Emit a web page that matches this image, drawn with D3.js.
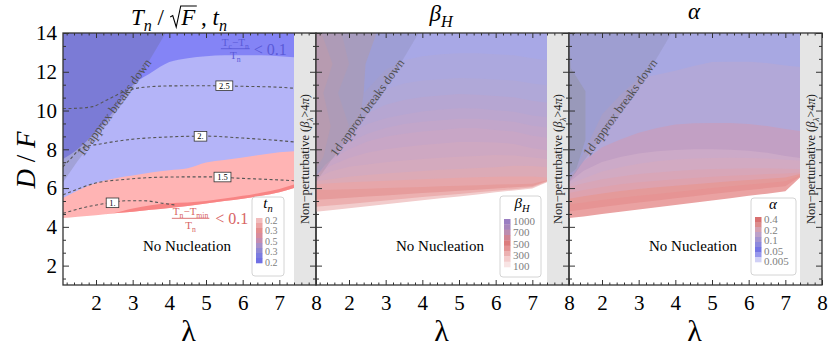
<!DOCTYPE html>
<html>
<head>
<meta charset="utf-8">
<script src="https://cdn.jsdelivr.net/npm/d3@7"></script>
<style>
  body { margin: 0; background: #fff; }
  svg { display: block; }
</style>
</head>
<body>
<div id="chart"></div>
<script>
// lambda grid that all filled boundaries are sampled on
const lam = [1.1, 1.5, 2, 2.5, 3, 3.5, 4, 4.5, 5, 5.5, 6, 6.5, 7, 7.4];

// Panel 1: Tn/sqrt(F), t_n  (D/F of each region boundary)
const tnBottom  = [4.45, 4.52, 4.6, 4.7, 4.78, 4.88, 4.97, 5.08, 5.2, 5.33, 5.45, 5.6, 5.78, 6.0];
const tnRedTop  = [4.45, 4.52, 4.6, 4.72, 4.95, 5.12, 5.22, 5.26, 5.33, 5.46, 5.6, 5.76, 5.95, 6.18];
const tnPinkTop = [5.49, 5.88, 6.26, 6.5, 6.65, 6.8, 6.92, 7.02, 7.32, 7.45, 7.58, 7.72, 7.85, 7.9];
const tnBlueTop = [7.5, 8.0, 8.9, 10.0, 11.3, 11.95, 12.5, 12.7, 12.8, 12.85, 12.85, 12.85, 12.8, 12.75];

// dashed Tn/sqrt(F) contours
const tnLevels = ["1.", "1.5", "2.", "2.5"];
const tnLine1  = [[1.1, 4.7], [1.8, 5.05], [2.3, 5.22], [2.9, 5.35], [3.3, 5.35], [3.8, 5.22], [4.2, 5.12]];
const tnLine15 = [[1.1, 5.65], [1.5, 5.95], [1.95, 6.24], [2.8, 6.45], [4, 6.57], [5, 6.58], [6, 6.5], [7, 6.42], [7.4, 6.38]];
const tnLine2  = [[1.1, 7.1], [1.3, 7.5], [1.6, 8.05], [2.2, 8.3], [2.9, 8.5], [4, 8.64], [5, 8.68], [6, 8.58], [7, 8.45], [7.4, 8.38]];
const tnLine25 = [[1.1, 10.1], [1.5, 10.12], [1.9, 10.2], [2.3, 10.55], [2.8, 11.0], [3.3, 11.2], [4, 11.27], [5, 11.28], [6, 11.25], [7, 11.2], [7.4, 11.15]];
const tnLabelAt = [[2.45, 5.24], [5.45, 6.57], [4.85, 8.67], [5.5, 11.28]];

// Panel 2: beta_H contour boundaries (bottom to top)
const bhBottom = [4.78, 4.86, 4.96, 5.06, 5.17, 5.27, 5.37, 5.47, 5.57, 5.67, 5.78, 5.88, 5.98, 6.3];
const bh1  = [5.04, 5.1, 5.18, 5.27, 5.36, 5.45, 5.54, 5.62, 5.7, 5.78, 5.86, 5.94, 6.04, 6.33];
const bh2  = [5.4, 5.44, 5.5, 5.56, 5.62, 5.68, 5.74, 5.8, 5.86, 5.92, 5.98, 6.04, 6.1, 6.36];
const bh3  = [5.9, 5.92, 5.94, 5.97, 6.0, 6.03, 6.06, 6.09, 6.12, 6.15, 6.18, 6.2, 6.22, 6.4];
const bh4  = [6.2, 6.25, 6.3, 6.34, 6.38, 6.42, 6.46, 6.5, 6.53, 6.56, 6.58, 6.6, 6.6, 6.55];
const bh5  = [6.35, 6.45, 6.58, 6.68, 6.75, 6.82, 6.88, 6.94, 6.99, 7.03, 7.08, 7.15, 7.14, 7.08];
const bh6  = [6.5, 6.85, 7.1, 7.22, 7.33, 7.42, 7.5, 7.56, 7.62, 7.66, 7.7, 7.68, 7.58, 7.5];
const bh7  = [6.7, 7.15, 7.55, 7.82, 8.0, 8.12, 8.22, 8.3, 8.38, 8.38, 8.35, 8.28, 8.05, 7.95];
const bh8  = [6.9, 7.45, 8.0, 8.4, 8.65, 8.8, 8.92, 9.0, 9.08, 9.08, 9.0, 8.92, 8.7, 8.6];
const bh9  = [7.1, 7.75, 8.35, 8.8, 9.1, 9.3, 9.42, 9.5, 9.58, 9.58, 9.5, 9.42, 9.22, 9.12];
const bh10 = [7.3, 8.05, 8.75, 9.3, 9.6, 9.8, 9.95, 10.05, 10.12, 10.1, 10.02, 9.94, 9.75, 9.65];
const bh11 = [7.5, 8.35, 9.15, 9.85, 10.3, 10.55, 10.7, 10.78, 10.85, 10.82, 10.75, 10.68, 10.5, 10.4];
const bh12 = [7.8, 8.65, 9.55, 10.45, 11.1, 11.4, 11.55, 11.62, 11.68, 11.65, 11.6, 11.55, 11.4, 11.3];
const bh13 = [8.1, 9.0, 10.0, 11.1, 12.1, 12.6, 12.8, 12.9, 12.95, 12.95, 12.9, 12.85, 12.7, 12.6];
// jagged contours in the top-left corner of panel 2, [lambda, D/F]
const bhCornerC = [[1.1, 14], [2.75, 14], [2.45, 12.4], [2.4, 10.9], [2.3, 9.6], [1.1, 6.6]];
const bhCornerB = [[1.1, 14], [1.8, 14], [2.0, 12.4], [1.7, 10.9], [2.0, 9.2], [1.6, 7.6], [1.1, 6.8]];
const bhCornerA = [[1.1, 14], [1.25, 14], [1.55, 12.4], [1.3, 10.9], [1.5, 9.2], [1.3, 7.6], [1.1, 7.0]];

// Panel 3: alpha contour boundaries (bottom to top)
const alBottom = [4.45, 4.54, 4.66, 4.78, 4.89, 5.01, 5.13, 5.24, 5.36, 5.48, 5.6, 5.71, 5.83, 6.55];
const al1 = [4.8, 4.9, 5.02, 5.14, 5.25, 5.36, 5.47, 5.58, 5.69, 5.8, 5.9, 6.0, 6.1, 6.6];
const al2 = [5.15, 5.25, 5.38, 5.5, 5.6, 5.7, 5.8, 5.9, 6.0, 6.1, 6.18, 6.26, 6.35, 6.65];
const al3 = [5.45, 5.58, 5.72, 5.85, 5.95, 6.04, 6.12, 6.2, 6.28, 6.35, 6.42, 6.48, 6.55, 6.72];
const al4 = [5.75, 5.9, 6.05, 6.2, 6.3, 6.38, 6.45, 6.52, 6.58, 6.63, 6.68, 6.72, 6.75, 6.8];
const al5 = [6.05, 6.25, 6.45, 6.6, 6.72, 6.8, 6.88, 6.94, 6.98, 7.0, 7.02, 7.02, 7.0, 6.98];
const al6 = [6.2, 6.5, 6.85, 7.08, 7.25, 7.38, 7.47, 7.52, 7.55, 7.56, 7.55, 7.52, 7.46, 7.42];
const al7 = [6.3, 6.9, 7.35, 7.6, 7.78, 7.9, 7.96, 8.0, 8.0, 7.98, 7.92, 7.82, 7.65, 7.55];
const al8 = [6.4, 7.4, 8.1, 8.5, 8.85, 9.1, 9.28, 9.34, 9.36, 9.36, 9.3, 9.2, 9.05, 8.95];
const al9 = [6.5, 7.8, 9.8, 10.8, 11.66, 11.85, 12.05, 12.3, 12.5, 12.52, 12.52, 12.45, 12.32, 12.25];
const alCornerA = [[1.1, 14], [1.15, 12.2], [1.55, 11.0], [1.55, 8.5], [1.3, 7.0], [1.1, 6.7]];

// "1d approx breaks down" boundary, and the non-perturbative edge
const breakdown = [[1.1, 6.3], [1.5, 7.4], [2, 8.6], [2.9, 10.8], [3.4, 12.4], [3.9, 14]];
const nonPertStart = 7.4;

// legends
const tnLegend = ["0.2", "0.3", "0.5", "0.3", "0.2"];
const bhLegend = ["1000", "700", "500", "300", "100"];
const alLegend = ["0.4", "0.2", "0.1", "0.05", "0.005"];

// ---- styles ----
const serif = "'Liberation Serif', 'Times New Roman', serif";
const tnColors = ["#ffb4b4", "#f88484", "#b4b4f8", "#8484f6"];
const bhColors = ["#f2cccc", "#ecb0b0", "#e69c9c", "#e6a6aa", "#dcaab6", "#d4aabe", "#cea8c2",
                  "#c8a6c6", "#c2a6ca", "#bca6ce", "#b6a6d2", "#b0a8d8", "#aca8de", "#a8a8e6"];
const bhCornerColors = ["#b2a6cc", "#baa4c4", "#c4a4bc"];
const alColors = ["#eaa2a2", "#e69494", "#e49a9a", "#dea2ae", "#d8a6b8", "#d2aac2",
                  "#ccaac8", "#c2a0c4", "#b2a8d8", "#a8a8e2"];
const tnLegendColors = ["#f2bcbc", "#eca4a4", "#e48e8e", "#d88c9c", "#c48cb0", "#a890c8", "#9088d4", "#7c7ce0", "#7070e4"];
const bhLegendColors = ["#9a7ec2", "#a886bc", "#bc8cb0", "#d08494", "#dc7c7c", "#e49494", "#ecb0b0", "#f4cccc", "#f8e4e4"];
const alLegendColors = ["#d87070", "#dc8c8c", "#d4a0b0", "#bca0c8", "#a494d0", "#8c88dc", "#7474e4", "#9898ec", "#d0d0f6"];

// ---- layout ----
const W = 830, H = 350;
const panelLeft = [63, 316, 569];
const panelW = 253, plotTop = 33, plotBottom = 285;

const svg = d3.select("#chart").append("svg")
    .attr("width", W).attr("height", H)
    .attr("font-family", serif);
const defs = svg.append("defs");

function makePanel(i) {
    const x0 = panelLeft[i];
    const x = d3.scaleLinear().domain([1.1, 8]).range([x0, x0 + panelW]);
    const y = d3.scaleLinear().domain([1, 14]).range([plotBottom, plotTop]);
    defs.append("clipPath").attr("id", "clip" + i)
        .append("rect").attr("x", x0).attr("y", plotTop)
        .attr("width", panelW).attr("height", plotBottom - plotTop);
    const g = svg.append("g");
    const plot = g.append("g").attr("clip-path", `url(#clip${i})`);
    return { x, y, g, plot, x0 };
}

// each band is filled from its lower boundary up to the top; later bands paint over
function drawBands(p, curves, colors, curve) {
    const area = d3.area()
        .x((d, i) => p.x(lam[i]))
        .y0(p.y(14))
        .y1(d => p.y(d))
        .curve(curve);
    curves.forEach((c, k) => {
        p.plot.append("path").datum(c).attr("d", area).attr("fill", colors[k]);
    });
}

function polygon(p, pts, fill) {
    const line = d3.line().x(d => p.x(d[0])).y(d => p.y(d[1]));
    p.plot.append("path").attr("d", line(pts) + "Z").attr("fill", fill);
}

function drawBreakdown(p, alpha) {
    polygon(p, breakdown.concat([[1.1, 14]]), `rgba(88,88,88,${alpha})`);
}

// rich text: parts are {t, it, sub}
function rich(sel, parts, size) {
    let off = 0;
    parts.forEach(q => {
        const shift = q.sub ? size * 0.28 : 0;
        const ts = sel.append("tspan").text(q.t);
        if (shift - off !== 0) ts.attr("dy", shift - off);
        off = shift;
        if (q.sub) ts.attr("font-size", size * 0.7);
        if (q.it) ts.attr("font-style", "italic");
    });
    return sel;
}

function drawStrip(p) {
    p.plot.append("rect")
        .attr("x", p.x(nonPertStart)).attr("y", plotTop)
        .attr("width", p.x(8) - p.x(nonPertStart)).attr("height", plotBottom - plotTop)
        .attr("fill", "#e5e5e5");
    const cx = (p.x(nonPertStart) + p.x(8)) / 2 + 4;
    const cy = (plotTop + plotBottom) / 2;
    const t = p.g.append("text")
        .attr("transform", `translate(${cx},${cy}) rotate(-90)`)
        .attr("text-anchor", "middle")
        .attr("font-size", 12.5)
        .attr("fill", "#222");
    rich(t, [{ t: "Non\u2212perturbative  (" }, { t: "\u03b2", it: true }, { t: "\u03bb", it: true, sub: true },
             { t: ">4" }, { t: "\u03c0", it: true }, { t: ")" }], 12.5);
}

function drawCommonText(p) {
    p.g.append("text")
        .attr("x", p.x(4.48)).attr("y", p.y(2.75))
        .attr("text-anchor", "middle").attr("font-size", 15)
        .text("No Nucleation");
    p.g.append("text")
        .attr("transform", `translate(${p.x(2.5)},${p.y(10.15)}) rotate(-54)`)
        .attr("text-anchor", "middle").attr("dominant-baseline", "central")
        .attr("font-size", 12.5).attr("fill", "#505050")
        .text("1d approx breaks down");
}

function drawFrame(p, showY) {
    const xMajor = d3.range(2, 9);
    const xMinor = d3.range(1.2, 8, 0.2).filter(v => Math.abs(v - Math.round(v)) > 1e-6);
    const yMajor = d3.range(2, 15, 2);
    const yMinor = d3.range(1 + 1 / 3, 14, 2 / 3).filter(v => Math.abs(v / 2 - Math.round(v / 2)) > 1e-6);
    const xr = p.x0 + panelW;

    const styleAxis = a => {
        a.select(".domain").remove();
        a.attr("font-family", serif).attr("font-size", 21);
        a.selectAll("line").attr("stroke", "#333");
        a.selectAll("text").attr("fill", "#000");
    };

    // bottom
    p.g.append("g").attr("transform", `translate(0,${plotBottom})`)
        .call(d3.axisBottom(p.x).tickValues(xMajor).tickSize(-5).tickSizeOuter(0).tickPadding(10).tickFormat(d3.format("d")))
        .call(styleAxis);
    p.g.append("g").attr("transform", `translate(0,${plotBottom})`)
        .call(d3.axisBottom(p.x).tickValues(xMinor).tickSize(-2.5).tickSizeOuter(0).tickFormat(""))
        .call(styleAxis);
    // top
    p.g.append("g").attr("transform", `translate(0,${plotTop})`)
        .call(d3.axisTop(p.x).tickValues(xMajor).tickSize(-5).tickSizeOuter(0).tickFormat(""))
        .call(styleAxis);
    p.g.append("g").attr("transform", `translate(0,${plotTop})`)
        .call(d3.axisTop(p.x).tickValues(xMinor).tickSize(-2.5).tickSizeOuter(0).tickFormat(""))
        .call(styleAxis);
    // left
    p.g.append("g").attr("transform", `translate(${p.x0},0)`)
        .call(d3.axisLeft(p.y).tickValues(yMajor).tickSize(-6).tickSizeOuter(0).tickPadding(6)
            .tickFormat(showY ? d3.format("d") : ""))
        .call(styleAxis);
    p.g.append("g").attr("transform", `translate(${p.x0},0)`)
        .call(d3.axisLeft(p.y).tickValues(yMinor).tickSize(-3).tickSizeOuter(0).tickFormat(""))
        .call(styleAxis);
    // right
    p.g.append("g").attr("transform", `translate(${xr},0)`)
        .call(d3.axisRight(p.y).tickValues(yMajor).tickSize(-6).tickSizeOuter(0).tickFormat(""))
        .call(styleAxis);
    p.g.append("g").attr("transform", `translate(${xr},0)`)
        .call(d3.axisRight(p.y).tickValues(yMinor).tickSize(-3).tickSizeOuter(0).tickFormat(""))
        .call(styleAxis);

    p.g.append("rect")
        .attr("x", p.x0).attr("y", plotTop)
        .attr("width", panelW).attr("height", plotBottom - plotTop)
        .attr("fill", "none").attr("stroke", "#333").attr("stroke-width", 1.3);

    // x axis label
    p.g.append("text")
        .attr("x", p.x0 + panelW / 2 - 1).attr("y", 341)
        .attr("text-anchor", "middle").attr("font-size", 30)
        .text("\u03bb");
}

function drawLegend(p, cfg) {
    const g = p.g.append("g").attr("transform", `translate(${p.x0 + cfg.bx},${cfg.by})`);
    g.append("rect").attr("width", cfg.bw).attr("height", cfg.bh).attr("rx", 3)
        .attr("fill", "#fff").attr("stroke", "#d4d4d4");
    const t = g.append("text").attr("x", cfg.tx).attr("y", cfg.ty)
        .attr("text-anchor", "middle").attr("font-size", 15);
    rich(t, cfg.title, 15);
    const band = d3.scaleBand().domain(d3.range(cfg.colors.length)).range([cfg.barTop, cfg.barBottom]);
    g.selectAll(".cell").data(cfg.colors).join("rect")
        .attr("x", cfg.barX).attr("width", 6.5)
        .attr("y", (d, i) => band(i)).attr("height", band.bandwidth() + 0.3)
        .attr("fill", d => d);
    const ly = d3.scalePoint().domain(cfg.labels.map((d, i) => i)).range([cfg.barTop + 2, cfg.barBottom - 1]);
    g.selectAll(".lab").data(cfg.labels).join("text")
        .attr("x", cfg.barX + 9).attr("y", (d, i) => ly(i))
        .attr("dominant-baseline", "central")
        .attr("font-size", cfg.fs).attr("fill", "#808080")
        .text(d => d);
}

// ================= Panel 1 =================
const p1 = makePanel(0);
drawBands(p1, [tnBottom, tnPinkTop, tnBlueTop], [tnColors[0], tnColors[2], tnColors[3]], d3.curveMonotoneX);
// Tn - Tmin strip along the lower edge
p1.plot.append("path")
    .datum(lam.map((l, i) => i))
    .attr("d", d3.area().x(i => p1.x(lam[i])).y0(i => p1.y(tnBottom[i])).y1(i => p1.y(tnRedTop[i])).curve(d3.curveMonotoneX))
    .attr("fill", tnColors[1]);
drawBreakdown(p1, 0.2);

const contourLine = d3.line().x(d => p1.x(d[0])).y(d => p1.y(d[1])).curve(d3.curveMonotoneX);
[tnLine1, tnLine15, tnLine2, tnLine25].forEach(c => {
    p1.plot.append("path").attr("d", contourLine(c))
        .attr("fill", "none").attr("stroke", "#555").attr("stroke-width", 1.1)
        .attr("stroke-dasharray", "3,2.5");
});
tnLevels.forEach((lv, i) => {
    const [lx, ly] = tnLabelAt[i];
    const w = lv.length * 4.3 + 4;
    p1.plot.append("rect")
        .attr("x", p1.x(lx) - w / 2).attr("y", p1.y(ly) - 4.8)
        .attr("width", w).attr("height", 9.6)
        .attr("fill", "#fff").attr("stroke", "#333").attr("stroke-width", 0.8);
    p1.plot.append("text")
        .attr("x", p1.x(lx)).attr("y", p1.y(ly))
        .attr("text-anchor", "middle").attr("dominant-baseline", "central")
        .attr("font-size", 8.5).text(lv);
});
drawStrip(p1);
drawCommonText(p1);

// fraction annotations
function fraction(p, cx, barD, num, den, color, ltX, fsz) {
    const by = p.y(barD);
    const nt = p.g.append("text").attr("x", p.x(cx)).attr("y", by - 3)
        .attr("text-anchor", "middle").attr("font-size", fsz).attr("fill", color);
    rich(nt, num, fsz);
    const dt = p.g.append("text").attr("x", p.x(cx)).attr("y", by + fsz - 0.5)
        .attr("text-anchor", "middle").attr("font-size", fsz).attr("fill", color);
    rich(dt, den, fsz);
    const w = nt.node().getComputedTextLength();
    p.g.append("line").attr("x1", p.x(cx) - w / 2 - 1).attr("x2", p.x(cx) + w / 2 + 1)
        .attr("y1", by).attr("y2", by).attr("stroke", color).attr("stroke-width", 0.9);
    p.g.append("text").attr("x", p.x(ltX)).attr("y", by + 6)
        .attr("font-size", 16).attr("fill", color).text("< 0.1");
}
fraction(p1, 5.8, 13.19,
    [{ t: "T" }, { t: "c", sub: true }, { t: "\u2212T" }, { t: "n", sub: true }],
    [{ t: "T" }, { t: "n", sub: true }], "#5a5ad8", 6.3, 11);
fraction(p1, 4.58, 4.44,
    [{ t: "T" }, { t: "n", sub: true }, { t: "\u2212T" }, { t: "min", sub: true }],
    [{ t: "T" }, { t: "n", sub: true }], "#d86464", 5.25, 11);

drawLegend(p1, {
    bx: 189, by: 197, bw: 32, bh: 79, tx: 16, ty: 10.5,
    title: [{ t: "t", it: true }, { t: "n", it: true, sub: true }],
    colors: tnLegendColors, labels: tnLegend, barX: 4, barTop: 21, barBottom: 66, fs: 10
});
drawFrame(p1, true);

// ================= Panel 2 =================
const p2 = makePanel(1);
drawBands(p2, [bhBottom, bh1, bh2, bh3, bh4, bh5, bh6, bh7, bh8, bh9, bh10, bh11, bh12, bh13], bhColors, d3.curveLinear);
[bhCornerC, bhCornerB, bhCornerA].forEach((c, k) => polygon(p2, c, bhCornerColors[k]));
drawBreakdown(p2, 0.12);
drawStrip(p2);
drawCommonText(p2);
drawLegend(p2, {
    bx: 184, by: 196, bw: 41, bh: 81, tx: 22, ty: 12,
    title: [{ t: "\u03b2", it: true }, { t: "H", it: true, sub: true }],
    colors: bhLegendColors, labels: bhLegend, barX: 4, barTop: 23, barBottom: 71, fs: 11
});
drawFrame(p2, false);

// ================= Panel 3 =================
const p3 = makePanel(2);
drawBands(p3, [alBottom, al1, al2, al3, al4, al5, al6, al7, al8, al9], alColors, d3.curveLinear);
polygon(p3, alCornerA, "#a2a2c8");
drawBreakdown(p3, 0.12);
drawStrip(p3);
drawCommonText(p3);
drawLegend(p3, {
    bx: 182, by: 198, bw: 45, bh: 77, tx: 22, ty: 10.5,
    title: [{ t: "\u03b1", it: true }],
    colors: alLegendColors, labels: alLegend, barX: 4, barTop: 19, barBottom: 64, fs: 11
});
drawFrame(p3, false);

// ================= titles =================
const t1 = svg.append("text").attr("x", 179).attr("y", 25)
    .attr("text-anchor", "middle").attr("font-size", 23);
rich(t1, [{ t: "T", it: true }, { t: "n", it: true, sub: true }, { t: " / \u2002" },
          { t: "F", it: true }, { t: " , " }, { t: "t", it: true }, { t: "n", it: true, sub: true }], 23);
{
    const node = t1.node();
    const rs = node.getStartPositionOfChar(5).x;   // en space holding the radical
    const fe = node.getEndPositionOfChar(6).x;     // end of F
    const base = 25, top = 6;
    svg.append("path")
        .attr("d", `M${rs + 0.5},${base - 8} L${rs + 3},${base - 9.5} L${rs + 6.5},${base + 2} L${rs + 11},${top} L${fe + 1.5},${top}`)
        .attr("fill", "none").attr("stroke", "#000").attr("stroke-width", 1.1);
}
rich(svg.append("text").attr("x", 441).attr("y", 21).attr("text-anchor", "middle").attr("font-size", 23),
    [{ t: "\u03b2", it: true }, { t: "H", it: true, sub: true }], 23);
svg.append("text").attr("x", 694).attr("y", 19).attr("text-anchor", "middle")
    .attr("font-size", 23).attr("font-style", "italic").text("\u03b1");

// y axis label
rich(svg.append("text").attr("transform", "translate(35,160) rotate(-90)")
    .attr("text-anchor", "middle").attr("font-size", 27),
    [{ t: "D", it: true }, { t: " / " }, { t: "F", it: true }], 27);
</script>
</body>
</html>
